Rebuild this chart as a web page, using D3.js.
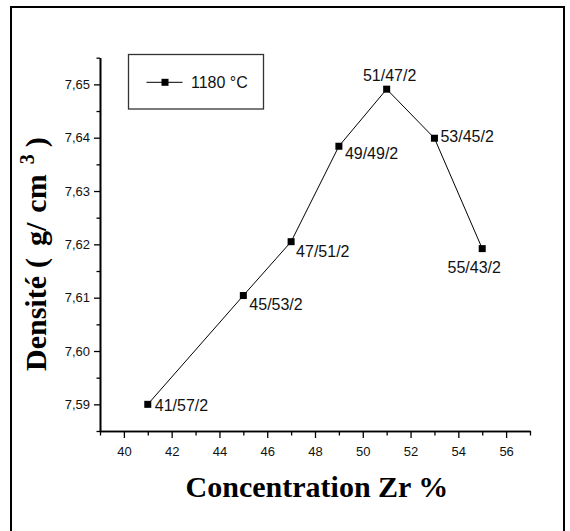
<!DOCTYPE html>
<html>
<head>
<meta charset="utf-8">
<script src="https://cdn.jsdelivr.net/npm/d3@7"></script>
<style>
  body { margin: 0; background: #fff; }
  svg { display: block; }
</style>
</head>
<body>
<div id="chart-area"></div>
<script>
// data
let concentration = [41, 45, 47, 49, 51, 53, 55];
let densite = [7.5900, 7.6104, 7.6205, 7.6384, 7.6491, 7.6399, 7.6192];
let compositions = ["41/57/2", "45/53/2", "47/51/2", "49/49/2", "51/47/2", "53/45/2", "55/43/2"];
let xTicks = [40, 42, 44, 46, 48, 50, 52, 54, 56];
let yTicks = [7.59, 7.60, 7.61, 7.62, 7.63, 7.64, 7.65];
let seriesName = "1180 °C";

// where each point label sits relative to its marker
let labelPlace = [
  { dx: 7, dy: 7, anchor: "start" },
  { dx: 6, dy: 14, anchor: "start" },
  { dx: 5, dy: 15, anchor: "start" },
  { dx: 6, dy: 13, anchor: "start" },
  { dx: 3, dy: -8, anchor: "middle" },
  { dx: 6, dy: 4, anchor: "start" },
  { dx: -8, dy: 24, anchor: "middle" }
];

let W = 570, H = 531;
let margin = { left: 100, top: 57.7, right: 40, bottom: 100 };
let plotW = 530 - margin.left;
let plotH = 431 - margin.top;

let svg = d3.select("#chart-area")
  .append("svg")
    .attr("width", W)
    .attr("height", H);

// outer frame
svg.append("rect")
  .attr("x", 11)
  .attr("y", 7)
  .attr("width", 553)
  .attr("height", 540)
  .attr("fill", "none")
  .attr("stroke", "#000")
  .attr("stroke-width", 2);

let g = svg.append("g")
  .attr("transform", "translate(" + margin.left + "," + margin.top + ")");

let x = d3.scaleLinear().domain([39, 57]).range([0, plotW]);
let y = d3.scaleLinear().domain([7.585, 7.655]).range([plotH, 0]);

// minor ticks
let xMinor = d3.range(39, 57.5, 2);
let yMinor = d3.range(0, 8).map(i => 7.585 + i * 0.01);

g.append("g")
  .attr("class", "x minor")
  .attr("transform", "translate(0," + plotH + ")")
  .call(d3.axisBottom(x).tickValues(xMinor).tickSize(4.5).tickSizeOuter(0).tickFormat(""));

g.append("g")
  .attr("class", "y minor")
  .call(d3.axisLeft(y).tickValues(yMinor).tickSize(3.5).tickSizeOuter(0).tickFormat(""));

g.append("g")
  .attr("class", "x axis")
  .attr("transform", "translate(0," + plotH + ")")
  .call(d3.axisBottom(x).tickValues(xTicks).tickSize(7).tickPadding(9).tickSizeOuter(0));

g.append("g")
  .attr("class", "y axis")
  .call(d3.axisLeft(y).tickValues(yTicks).tickSize(6).tickPadding(4).tickSizeOuter(0)
    .tickFormat(d => d.toFixed(2).replace(".", ",")));

g.selectAll(".axis path, .minor path")
  .attr("stroke", "#000")
  .attr("stroke-width", 1.6);
g.selectAll(".axis line, .minor line")
  .attr("stroke", "#000")
  .attr("stroke-width", 1.3);
g.selectAll(".axis text")
  .attr("font-family", "Liberation Sans, Arial, sans-serif")
  .attr("font-size", "13px")
  .attr("fill", "#111");

// line + markers
let pts = concentration.map((c, i) => ({ c: c, d: densite[i], label: compositions[i], place: labelPlace[i] }));

g.append("path")
  .datum(pts)
  .attr("fill", "none")
  .attr("stroke", "#000")
  .attr("stroke-width", 1)
  .attr("d", d3.line().x(d => x(d.c)).y(d => y(d.d)));

g.selectAll("rect.pt")
  .data(pts)
  .enter()
  .append("rect")
  .attr("class", "pt")
  .attr("x", d => x(d.c) - 3.5)
  .attr("y", d => y(d.d) - 3.5)
  .attr("width", 7)
  .attr("height", 7)
  .attr("fill", "#000");

g.selectAll("text.lbl")
  .data(pts)
  .enter()
  .append("text")
  .attr("class", "lbl")
  .attr("x", d => x(d.c) + d.place.dx)
  .attr("y", d => y(d.d) + d.place.dy)
  .attr("text-anchor", d => d.place.anchor)
  .attr("font-family", "Liberation Sans, Arial, sans-serif")
  .attr("font-size", "16px")
  .attr("fill", "#111")
  .text(d => d.label);

// legend
let legend = svg.append("g").attr("class", "legend");
legend.append("rect")
  .attr("x", 128.5)
  .attr("y", 54.5)
  .attr("width", 135)
  .attr("height", 54.5)
  .attr("fill", "#fff")
  .attr("stroke", "#333")
  .attr("stroke-width", 1.3);
legend.append("line")
  .attr("x1", 146.5).attr("x2", 182.5)
  .attr("y1", 82.3).attr("y2", 82.3)
  .attr("stroke", "#000")
  .attr("stroke-width", 1);
legend.append("rect")
  .attr("x", 161.5).attr("y", 78.8)
  .attr("width", 7).attr("height", 7)
  .attr("fill", "#000");
legend.append("text")
  .attr("x", 191)
  .attr("y", 88.3)
  .attr("font-family", "Liberation Sans, Arial, sans-serif")
  .attr("font-size", "16px")
  .attr("fill", "#111")
  .text(seriesName);

// axis titles
svg.append("text")
  .attr("x", 317)
  .attr("y", 497)
  .attr("text-anchor", "middle")
  .attr("font-family", "Liberation Serif, Times New Roman, serif")
  .attr("font-weight", "bold")
  .attr("font-size", "30px")
  .text("Concentration Zr %");

let yTitle = svg.append("text")
  .attr("transform", "translate(46,371) rotate(-90)")
  .attr("font-family", "Liberation Serif, Times New Roman, serif")
  .attr("font-weight", "bold")
  .attr("font-size", "30px");
yTitle.append("tspan").text("Densité");
yTitle.append("tspan").attr("dx", 8).text("(");
yTitle.append("tspan").attr("dx", 12).text("g/");
yTitle.append("tspan").attr("dx", 10).text("cm");
yTitle.append("tspan").attr("dx", 10).attr("dy", -12).attr("font-size", "20px").text("3");
yTitle.append("tspan").attr("dx", 7).attr("dy", 12).text(")");
</script>
</body>
</html>
